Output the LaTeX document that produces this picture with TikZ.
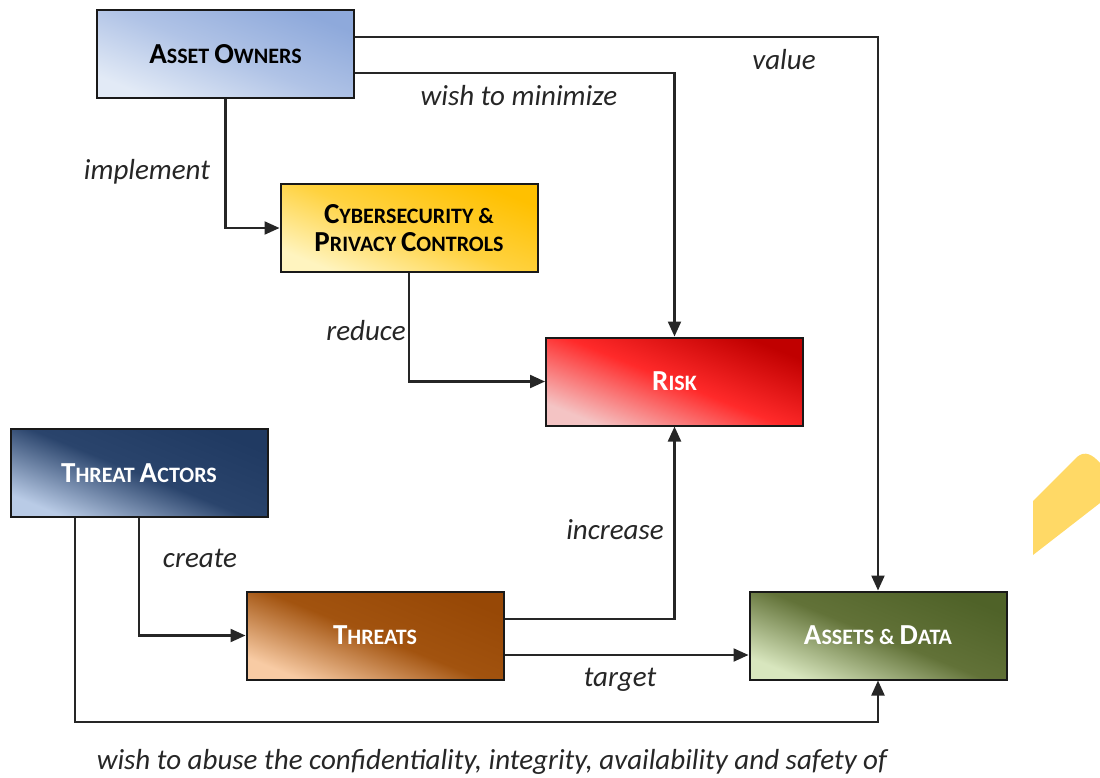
\documentclass[tikz,border=0pt]{standalone}
\usepackage{fontspec}
\setmainfont{Carlito}
\usetikzlibrary{arrows.meta,calc}
\definecolor{uOwnDk}{HTML}{8EA9DB}
\definecolor{uOwnMd}{HTML}{B0C3E6}
\definecolor{uOwnLt}{HTML}{E2EAF6}
\definecolor{uCtlDk}{HTML}{FFC000}
\definecolor{uCtlMd}{HTML}{FFD23F}
\definecolor{uCtlLt}{HTML}{FFF4BF}
\definecolor{uRiskDk}{HTML}{C00000}
\definecolor{uRiskMd}{HTML}{FF2A2A}
\definecolor{uRiskLt}{HTML}{F4C4C4}
\definecolor{uActDk}{HTML}{203A62}
\definecolor{uActMd}{HTML}{2A446C}
\definecolor{uActLt}{HTML}{B9CBE6}
\definecolor{uThrDk}{HTML}{974806}
\definecolor{uThrMd}{HTML}{A2530F}
\definecolor{uThrLt}{HTML}{F8CBA4}
\definecolor{uAstDk}{HTML}{4F6228}
\definecolor{uAstMd}{HTML}{627238}
\definecolor{uAstLt}{HTML}{D8E6BE}
\definecolor{uMark}{HTML}{FFD966}
\tikzset{
  box/.style={draw=black!90, line width=1pt, minimum width=128.5pt,
              minimum height=44pt, align=center, inner sep=2pt,
              font=\bfseries\fontsize{11}{14}\selectfont},
  owner/.style={box, top color=uOwnDk, bottom color=uOwnLt,
                middle color=uOwnMd, shading angle=-22},
  ctrl/.style={box, top color=uCtlDk, bottom color=uCtlLt,
               middle color=uCtlMd, shading angle=-22},
  risk/.style={box, text=white, top color=uRiskDk, bottom color=uRiskLt,
               middle color=uRiskMd, shading angle=-22},
  actor/.style={box, text=white, top color=uActDk, bottom color=uActLt,
                middle color=uActMd, shading angle=-22},
  threat/.style={box, text=white, top color=uThrDk, bottom color=uThrLt,
                 middle color=uThrMd, shading angle=-22},
  asset/.style={box, text=white, top color=uAstDk, bottom color=uAstLt,
                middle color=uAstMd, shading angle=-22},
  flow/.style={-{Triangle[length=7.5pt, width=6.5pt]}, line width=1.1pt,
               draw=black!85},
  % labels sit beside the lines, never on them
  lbl/.style={font=\itshape\fontsize{14.5}{16}\selectfont, text=black!85,
              inner sep=1pt},
}
\newcommand{\capword}[2]{{\fontsize{14.5}{14}\selectfont #1}#2}

\begin{document}
\begin{tikzpicture}[x=0.5pt, y=-0.5pt]
\useasboundingbox (0,0) rectangle (1100,778);

%% ── the six boxes ────────────────────────────────────────────────────────
\node[owner] (own) at (225.5,54) {\capword{A}{SSET} \capword{O}{WNERS}};
\node[ctrl] (ctl) at (409,228)
  {\capword{C}{YBERSECURITY} \&\\ \capword{P}{RIVACY} \capword{C}{ONTROLS}};
\node[risk] (rsk) at (674.5,381.5) {\capword{R}{ISK}};
\node[actor] (act) at (139,473) {\capword{T}{HREAT} \capword{A}{CTORS}};
\node[threat] (thr) at (375,635.5) {\capword{T}{HREATS}};
\node[asset] (ast) at (878,635.5) {\capword{A}{SSETS} \& \capword{D}{ATA}};

%% ── rows and columns the lines run along ─────────────────────────────────
\coordinate (valrow) at (0,37);
\coordinate (minrow) at (0,73);
\coordinate (incrow) at (0,619);
\coordinate (tgtrow) at (0,655);
\coordinate (abuserow) at (0,722);
\coordinate (abusecol) at (75,0);

%% ── connectors ───────────────────────────────────────────────────────────
\draw[flow] (own.east |- valrow) -| (ast.north);
\draw[flow] (own.east |- minrow) -| (rsk.north);
\draw[flow] (own.south) |- (ctl.west);
\draw[flow] (ctl.south) |- (rsk.west);
\draw[flow] (act.south) |- (thr.west);
\draw[flow] (thr.east |- incrow) -| (rsk.south);
\draw[flow] (thr.east |- tgtrow) -- (ast.west |- tgtrow);
\draw[flow] (act.south -| abusecol) -- (abusecol |- abuserow) -| (ast.south);

%% ── labels ───────────────────────────────────────────────────────────────
\node[lbl] (lvalue) at (784,60) {value};
\node[lbl] (lmin) at (519,96) {wish to minimize};
\node[lbl] (limpl) at (147,172) {implement};
\node[lbl] (lred) at (366,331) {reduce};
\node[lbl] (lcreate) at (200,558) {create};
\node[lbl] (linc) at (615,530) {increase};
\node[lbl] (ltgt) at (620,680) {target};
\node[lbl] (labuse) at (492,762)
  {wish to abuse the confidentiality, integrity, availability and safety of};

%% ── marker stroke at the right edge ──────────────────────────────────────
\fill[uMark] (1033,501) -- (1077,457) .. controls (1085,450) and (1093,455)
  .. (1100,463) -- (1100,503) -- (1033,555) -- cycle;

\end{tikzpicture}
\end{document}
